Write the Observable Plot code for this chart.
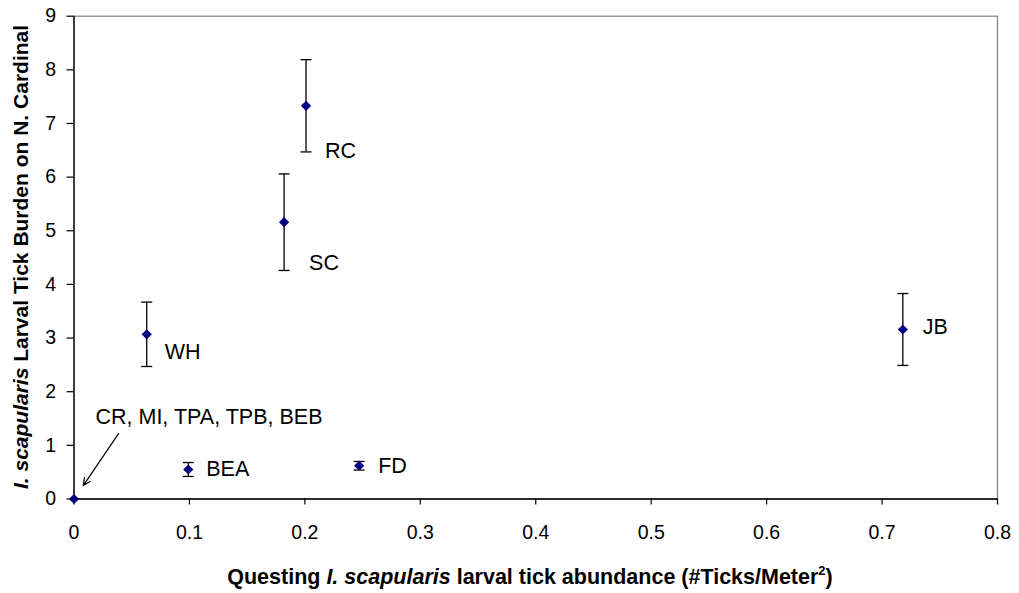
<!DOCTYPE html>
<html>
<head>
<meta charset="utf-8">
<script src="https://cdn.jsdelivr.net/npm/d3@7"></script>
<script src="https://cdn.jsdelivr.net/npm/@observablehq/plot@0.6"></script>
<style>
  html, body { margin: 0; padding: 0; background: #fff; }
  #chart { width: 1019px; height: 593px; }
  svg { font-family: "Liberation Sans", Arial, sans-serif; }
</style>
</head>
<body>
<div id="chart"></div>
<script>
// ---- data ----
const sites      = ["CR, MI, TPA, TPB, BEB", "WH", "BEA", "SC", "RC", "FD", "JB"];
const abundance  = [0, 0.063, 0.099, 0.182, 0.201, 0.247, 0.718];
const burden     = [0, 3.07, 0.55, 5.16, 7.33, 0.62, 3.16];
const burdenErr  = [0, 0.60, 0.13, 0.90, 0.86, 0.08, 0.67];
const xTicks     = [0, 0.1, 0.2, 0.3, 0.4, 0.5, 0.6, 0.7, 0.8];
const yTicks     = [0, 1, 2, 3, 4, 5, 6, 7, 8, 9];
const noteText   = ["CR, MI, TPA, TPB, BEB"];
const noteAt     = [[0.0186, 1.525]];            // annotation text anchor (data units)
const noteArrow  = [[0.0386, 1.22, 0.008, 0.25]]; // x1, y1, x2, y2 (data units)

const rows = sites.map((s, i) => ({
  site: s, x: abundance[i], y: burden[i],
  lo: burden[i] - burdenErr[i], hi: burden[i] + burdenErr[i], err: burdenErr[i]
}));
const errRows = rows.filter(d => d.err > 0);

// label offsets (pixels) — style only
const labelOffset = {
  WH: [18, 18], RC: [19, 45], SC: [25, 41], JB: [20, -2], BEA: [18, 0], FD: [19, 0]
};

const capSymbol = { draw(ctx) { ctx.moveTo(-5.5, 0); ctx.lineTo(5.5, 0); } };
const font = "Liberation Sans, Arial, sans-serif";

const labelMarks = Object.entries(labelOffset).map(([name, [dx, dy]]) =>
  Plot.text(rows.filter(d => d.site === name), {
    x: "x", y: "y", text: "site", dx, dy,
    textAnchor: "start", fontSize: 21.5, fill: "#000", fontFamily: font
  })
);

const chart = Plot.plot({
  width: 1019,
  height: 593,
  marginLeft: 73.5,
  marginRight: 22,
  marginTop: 15.7,
  marginBottom: 94.5,
  style: { fontFamily: font, background: "#fff", overflow: "visible" },
  x: { domain: [0, 0.8] },
  y: { domain: [0, 9] },
  marks: [
    Plot.frame({ stroke: "#808080", strokeWidth: 1.2 }),
    Plot.axisX({
      ticks: xTicks, tickSize: 6, tickPadding: 20, fontSize: 19.5,
      tickFormat: d => String(+d.toFixed(1)), label: null, stroke: "#000", fill: "#000", strokeWidth: 1.2
    }),
    Plot.axisY({
      ticks: yTicks, tickSize: 7, tickPadding: 11, fontSize: 19.5,
      tickFormat: d => String(d), label: null, stroke: "#000", fill: "#000", strokeWidth: 1.2
    }),
    Plot.ruleX([0], { stroke: "#000", strokeWidth: 1.3 }),
    Plot.ruleY([0], { stroke: "#000", strokeWidth: 1.3 }),
    Plot.ruleX(errRows, { x: "x", y1: "lo", y2: "hi", stroke: "#000", strokeWidth: 1.3 }),
    Plot.dot(errRows, { x: "x", y: "lo", symbol: capSymbol, r: 5, stroke: "#000", fill: "none", strokeWidth: 1.3 }),
    Plot.dot(errRows, { x: "x", y: "hi", symbol: capSymbol, r: 5, stroke: "#000", fill: "none", strokeWidth: 1.3 }),
    Plot.dot(rows, { x: "x", y: "y", symbol: "diamond2", r: 4.6, fill: "#000080", stroke: "none" }),
    ...labelMarks,
    Plot.text(noteText, {
      x: (d, i) => noteAt[i][0], y: (d, i) => noteAt[i][1], text: d => d,
      textAnchor: "start", fontSize: 21.5, fill: "#000", fontFamily: font
    }),
    Plot.arrow(noteArrow, {
      x1: d => d[0], y1: d => d[1], x2: d => d[2], y2: d => d[3],
      stroke: "#000", strokeWidth: 1.2, headLength: 10, headAngle: 50, insetEnd: 0, insetStart: 0
    })
  ]
});

const svg = d3.select(chart);
// x axis title
const xt = svg.append("text")
  .attr("x", 530).attr("y", 584)
  .attr("text-anchor", "middle")
  .attr("font-family", font).attr("font-size", 21.5).attr("font-weight", "bold").attr("fill", "#000");
xt.append("tspan").text("Questing ");
xt.append("tspan").attr("font-style", "italic").text("I. scapularis");
xt.append("tspan").text(" larval tick abundance (#Ticks/Meter");
xt.append("tspan").attr("font-size", 13).attr("dy", -9).text("2");
xt.append("tspan").attr("dy", 9).text(")");

// y axis title
const yt = svg.append("text")
  .attr("transform", "translate(28,257) rotate(-90)")
  .attr("text-anchor", "middle")
  .attr("font-family", font).attr("font-size", 21).attr("font-weight", "bold").attr("fill", "#000");
yt.append("tspan").attr("font-style", "italic").text("I. scapularis");
yt.append("tspan").text(" Larval Tick Burden on N. Cardinal");

document.getElementById("chart").appendChild(chart);
</script>
</body>
</html>
